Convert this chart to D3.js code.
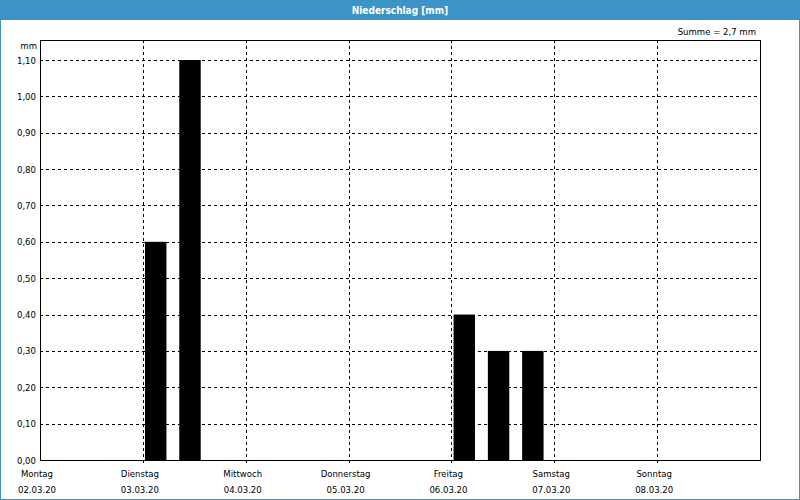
<!DOCTYPE html>
<html>
<head>
<meta charset="utf-8">
<script src="https://cdn.jsdelivr.net/npm/d3@7"></script>
<style>
html,body{margin:0;padding:0;background:#fff;}
svg text{font-family:"DejaVu Sans Condensed","DejaVu Sans",sans-serif;}
</style>
</head>
<body>
<script>
// ---- data ----
const title = "Niederschlag [mm]";
const sumLabel = "Summe = 2,7 mm";
const unitLabel = "mm";
const dayNames = ["Montag","Dienstag","Mittwoch","Donnerstag","Freitag","Samstag","Sonntag"];
const dayDates = ["02.03.20","03.03.20","04.03.20","05.03.20","06.03.20","07.03.20","08.03.20"];
const barDay   = [1, 1, 4, 4, 4];          // day index (0 = Montag 02.03.20)
const barHour  = [3, 11, 3, 11, 19];       // hour of bar centre
const barValue = [0.6, 1.1, 0.4, 0.3, 0.3];
const yTicks   = [0,0.1,0.2,0.3,0.4,0.5,0.6,0.7,0.8,0.9,1.0,1.1];

const W = 800, H = 500;
const m = {l:40, t:40, r:760, b:460};
const blue = "#3c93c6";

const svg = d3.select("body").append("svg").attr("width",W).attr("height",H);

// background & border
svg.append("rect").attr("x",0.5).attr("y",0.5).attr("width",W-1).attr("height",H-1)
  .attr("fill","#fff").attr("stroke",blue).attr("stroke-width",1);
svg.append("rect").attr("x",0).attr("y",0).attr("width",W).attr("height",20).attr("fill",blue);
svg.append("text").attr("x",W/2).attr("y",10).attr("text-anchor","middle").attr("dominant-baseline","central")
  .attr("fill","#fff").attr("font-weight","bold").attr("font-size","10px").text(title);
svg.append("text").attr("x",756).attr("y",31).attr("text-anchor","end").attr("dominant-baseline","central")
  .attr("fill","#000").attr("font-size","9.5px").text(sumLabel);

const t0 = new Date(2020,2,2);
const t1 = new Date(2020,2,9);
const x = d3.scaleTime().domain([t0,t1]).range([m.l,m.r]);
const y = d3.scaleLinear().domain([0,1.155]).range([m.b,m.t]);
const dayDate = i => new Date(2020,2,2+i);
const fmt = d3.format(".2f");

// horizontal grid
svg.append("g").selectAll("line").data(yTicks.filter(v=>v>0)).join("line")
  .attr("x1",m.l).attr("x2",m.r).attr("y1",d=>Math.round(y(d))+0.5).attr("y2",d=>Math.round(y(d))+0.5)
  .attr("stroke","#000").attr("stroke-width",1).attr("stroke-dasharray","3,3");
// vertical grid
svg.append("g").selectAll("line").data(d3.range(1,7)).join("line")
  .attr("x1",d=>Math.round(x(dayDate(d)))+0.5).attr("x2",d=>Math.round(x(dayDate(d)))+0.5)
  .attr("y1",m.t).attr("y2",m.b+3)
  .attr("stroke","#000").attr("stroke-width",1).attr("stroke-dasharray","3,3");

// bars
const bars = barValue.map((v,i)=>({v, t:new Date(2020,2,2+barDay[i],barHour[i])}));
svg.append("g").selectAll("rect").data(bars).join("rect")
  .attr("x",d=>x(new Date(d.t.getTime()-2.5*3600e3)))
  .attr("width",d=>x(new Date(d.t.getTime()+2.5*3600e3))-x(new Date(d.t.getTime()-2.5*3600e3)))
  .attr("y",d=>y(d.v)).attr("height",d=>y(0)-y(d.v)).attr("fill","#000");

// frame
svg.append("rect").attr("x",m.l+0.5).attr("y",m.t+0.5).attr("width",m.r-m.l).attr("height",m.b-m.t)
  .attr("fill","none").attr("stroke","#000").attr("stroke-width",1);

// y labels
svg.append("g").selectAll("text").data(yTicks).join("text")
  .attr("x",36).attr("y",d=>y(d)).attr("text-anchor","end").attr("dominant-baseline","central")
  .attr("font-size","9.5px").attr("fill","#000").text(d=>fmt(d).replace(".",","));
svg.append("text").attr("x",37).attr("y",45).attr("text-anchor","end").attr("dominant-baseline","central")
  .attr("font-size","9.5px").attr("fill","#000").text(unitLabel);

// x labels
const xl = svg.append("g").selectAll("g").data(d3.range(7)).join("g")
  .attr("transform",d=>`translate(${x(dayDate(d))-3},0)`);
xl.append("text").attr("y",473).attr("text-anchor","middle").attr("dominant-baseline","central")
  .attr("font-size","9.5px").attr("fill","#000").text(d=>dayNames[d]);
xl.append("text").attr("y",489).attr("text-anchor","middle").attr("dominant-baseline","central")
  .attr("font-size","9.5px").attr("fill","#000").text(d=>dayDates[d]);
</script>
</body>
</html>
